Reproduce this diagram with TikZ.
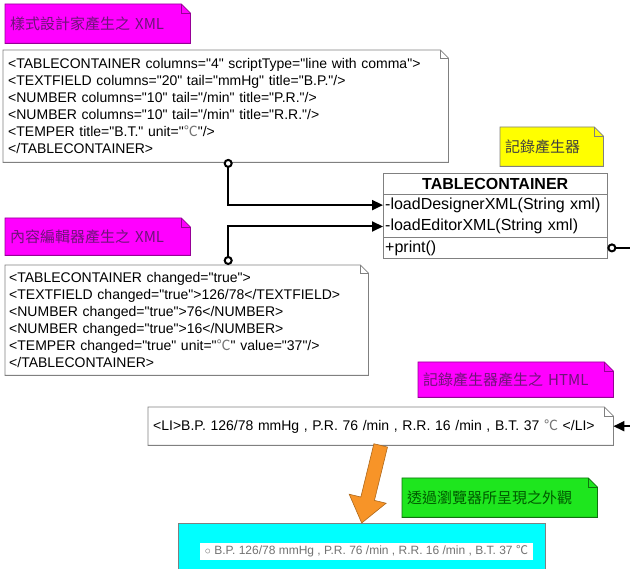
\documentclass[tikz,border=0pt]{standalone}
\usepackage{fontspec}
\newfontfamily\arial{Liberation Sans}
\newfontfamily\cjk{Noto Sans CJK TC}
\usepackage{xcolor}
\usepackage{tikz}
\usetikzlibrary{arrows.meta, positioning, calc}
\definecolor{notemagenta}{RGB}{255, 0, 255}
\definecolor{notemagentaline}{RGB}{150, 0, 150}
\definecolor{notemagentatext}{RGB}{110, 20, 120}
\definecolor{noteyellow}{RGB}{255, 255, 0}
\definecolor{notegreen}{RGB}{30, 230, 30}
\definecolor{notegreentext}{RGB}{0, 90, 0}
\definecolor{viewcyan}{RGB}{0, 255, 255}
\definecolor{floworange}{RGB}{247, 148, 40}
\definecolor{boxgray}{RGB}{128, 128, 128}

\pgfdeclarelayer{background}
\pgfsetlayers{background,main}

% note paper with a folded corner behind a node
\newcommand{\dogear}[4]{%
  \filldraw[fill=#3, draw=#4, line width=0.8pt] (#1.north west) -- ([xshift=-#2]#1.north east) -- ([yshift=-#2]#1.north east) -- (#1.south east) -- (#1.south west) -- cycle;
  \draw[#4, line width=0.8pt] ([xshift=-#2]#1.north east) |- ([yshift=-#2]#1.north east);
}
\newcommand{\degc}{{\cjk\color{black!55}℃}}

\begin{document}
\begin{tikzpicture}[x=1pt, y=-1pt,
    note/.style={anchor=north west, inner xsep=5pt, inner ysep=0pt, align=left, font=\cjk\fontsize{15}{18}\selectfont},
    xmlbox/.style={anchor=north west, inner xsep=5pt, inner ysep=0pt, align=left, font=\arial\fontsize{14}{17}\selectfont},
    umlrow/.style={minimum width=224pt, minimum height=21pt, text width=220pt, inner xsep=2pt, inner ysep=0pt, align=left, font=\arial\fontsize{16}{19}\selectfont},
    umlline/.style={draw=boxgray, line width=0.8pt},
    link/.style={line width=2pt, arrows={Circle[fill=white, length=9pt]-Triangle[length=11pt, width=10pt]}}]
    \useasboundingbox (0,0) rectangle (630,569);

    % Designer XML
    \node[note, text=notemagentatext, text width=175pt, minimum height=39pt] (designer-note) at (5,4) {樣式設計家產生之 XML};
    \node[xmlbox, text width=435pt, minimum height=112pt] (designer-xml) at (3,50) {<TABLECONTAINER columns="4" scriptType="line with comma">\\
        <TEXTFIELD columns="20" tail="mmHg" title="B.P."/>\\
        <NUMBER columns="10" tail="/min" title="P.R."/>\\
        <NUMBER columns="10" tail="/min" title="R.R."/>\\
        <TEMPER title="B.T." unit="\degc"/>\\
        </TABLECONTAINER>};

    % Record generator class
    \node[note, text=black!75, text width=93pt, minimum height=39pt] (recorder-note) at (500,127) {記錄產生器};
    \node[umlrow, anchor=north west, align=center, font=\arial\bfseries\fontsize{16}{19}\selectfont] (cls-head) at (383,173) {TABLECONTAINER};
    \node[umlrow, below=0pt of cls-head] (cls-designer) {-loadDesignerXML(String xml)};
    \node[umlrow, below=0pt of cls-designer] (cls-editor) {-loadEditorXML(String xml)};
    \node[umlrow, below=0pt of cls-editor] (cls-print) {+print()};
    \draw[umlline] (cls-head.north west) rectangle (cls-print.south east);
    \draw[umlline] (cls-head.south west) -- (cls-head.south east);
    \draw[umlline] (cls-print.north west) -- (cls-print.north east);

    % Editor XML
    \node[note, text=notemagentatext, text width=175pt, minimum height=37pt] (editor-note) at (5,218) {內容編輯器產生之 XML};
    \node[xmlbox, inner xsep=4pt, text width=355pt, minimum height=110pt] (editor-xml) at (5,265) {<TABLECONTAINER changed="true">\\
        <TEXTFIELD changed="true">126/78</TEXTFIELD>\\
        <NUMBER changed="true">76</NUMBER>\\
        <NUMBER changed="true">16</NUMBER>\\
        <TEMPER changed="true" unit="\degc" value="37"/>\\
        </TABLECONTAINER>};

    % Generated HTML
    \node[note, text=notemagentatext, text width=185pt, minimum height=35pt] (html-note) at (418,362) {記錄產生器產生之 HTML};
    \node[xmlbox, text width=455pt, minimum height=38pt] (html) at (148,407) {<LI>B.P. 126/78 mmHg , P.R. 76 /min , R.R. 16 /min , B.T. 37 \degc{} </LI>};

    % Browser view
    \node[note, text=notegreentext, text width=185pt, minimum height=39pt] (browser-note) at (402,478) {透過瀏覽器所呈現之外觀};
    \node[draw=boxgray, fill=viewcyan, anchor=north west, minimum width=367pt, minimum height=49pt, inner sep=0pt] (view) at (178,523) {};
    \node[fill=white, minimum width=333pt, minimum height=17pt, inner sep=0pt, text=black!55, font=\arial\fontsize{12}{14}\selectfont] (view-text) at (366.5,551.5) {$\circ$ B.P. 126/78 mmHg , P.R. 76 /min , R.R. 16 /min , B.T. 37 \degc};

    % big orange arrow
    \coordinate (flow-base) at ($(view.north)!25pt!(html.south)$);
    \filldraw[fill=floworange, draw=floworange!70!black, line width=0.6pt]
        ($(html.south)!7pt!90:(view.north)$) -- ($(flow-base)!7pt!90:(view.north)$)
        -- ($(flow-base)!19pt!90:(view.north)$) -- (view.north)
        -- ($(flow-base)!19pt!-90:(view.north)$) -- ($(flow-base)!7pt!-90:(view.north)$)
        -- ($(html.south)!7pt!-90:(view.north)$) -- cycle;

    % connectors
    \coordinate (editor-dock) at (designer-xml.south |- editor-xml.north);
    \coordinate (rail) at (634,0);
    \draw[link] ([xshift=2.5pt, yshift=3.5pt]designer-xml.south) |- (cls-designer.west);
    \draw[link] ([xshift=2.5pt]editor-dock) |- (cls-editor.west);
    \draw[link] (cls-print.east) -- (cls-print.east -| rail) |- (html.east);

    \begin{pgfonlayer}{background}
        \dogear{designer-note}{9pt}{notemagenta}{notemagentaline}
        \dogear{designer-xml}{8pt}{white}{boxgray}
        \dogear{recorder-note}{9pt}{noteyellow}{boxgray}
        \dogear{editor-note}{9pt}{notemagenta}{notemagentaline}
        \dogear{editor-xml}{8pt}{white}{boxgray}
        \dogear{html-note}{9pt}{notemagenta}{notemagentaline}
        \dogear{html}{9pt}{white}{boxgray}
        \dogear{browser-note}{9pt}{notegreen}{notegreen!50!black}
    \end{pgfonlayer}
\end{tikzpicture}
\end{document}
